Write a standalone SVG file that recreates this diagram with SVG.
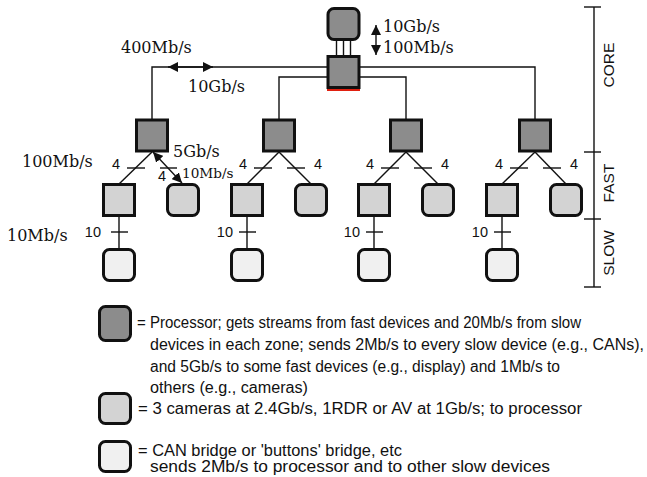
<svg xmlns="http://www.w3.org/2000/svg" width="647" height="477" viewBox="0 0 647 477">
<style>
.proc{fill:#8c8c8c;stroke:#111;stroke-width:3}
.fast{fill:#d3d3d3;stroke:#111;stroke-width:3}
.slow{fill:#f0f0f0;stroke:#111;stroke-width:3}
.ln{fill:none;stroke:#111;stroke-width:1.4}
.ser{font-family:"DejaVu Serif","Liberation Serif",serif;font-size:16px;fill:#111}
.num{font-family:"Liberation Sans",Arial,sans-serif;font-size:14.5px;fill:#111}
.leg{font-family:"Liberation Sans",Arial,sans-serif;font-size:16px;fill:#111}
.tier{font-family:"Liberation Sans",Arial,sans-serif;font-size:15.5px;fill:#111}
</style>
<defs>
<marker id="ah" viewBox="0 0 10 10" refX="10" refY="5" markerWidth="10" markerHeight="10" markerUnits="userSpaceOnUse" orient="auto-start-reverse">
<path d="M0,0 L10,5 L0,10 z" fill="#111"/>
</marker>
</defs>
<rect width="647" height="477" fill="#fff"/>

<g id="connectors">
<path class="ln" d="M327,67 H152 V119"/>
<path class="ln" d="M327,77 H279 V119"/>
<path class="ln" d="M360,77 H406 V119"/>
<path class="ln" d="M360,67 H535 V119"/>
<line class="ln" x1="336.5" y1="41" x2="336.5" y2="56"/>
<line class="ln" x1="343.5" y1="41" x2="343.5" y2="56"/>
<line class="ln" x1="350.5" y1="41" x2="350.5" y2="56"/>
<line x1="327" y1="90" x2="360" y2="90" stroke="#e02010" stroke-width="2"/>
<line class="ln" x1="152" y1="152" x2="119" y2="184"/>
<line class="ln" x1="127" y1="168" x2="145" y2="168"/>
<line class="ln" x1="160" y1="168" x2="177" y2="168"/>
<line class="ln" x1="119" y1="217" x2="119" y2="249"/>
<line class="ln" x1="111" y1="232" x2="128" y2="232"/>
<line class="ln" x1="279" y1="152" x2="247" y2="184"/>
<line class="ln" x1="279" y1="152" x2="311" y2="184"/>
<line class="ln" x1="254" y1="168" x2="272" y2="168"/>
<line class="ln" x1="287" y1="168" x2="305" y2="168"/>
<line class="ln" x1="247" y1="217" x2="247" y2="249"/>
<line class="ln" x1="239" y1="232" x2="256" y2="232"/>
<line class="ln" x1="406" y1="152" x2="374" y2="184"/>
<line class="ln" x1="406" y1="152" x2="438" y2="184"/>
<line class="ln" x1="381" y1="168" x2="399" y2="168"/>
<line class="ln" x1="414" y1="168" x2="432" y2="168"/>
<line class="ln" x1="374" y1="217" x2="374" y2="249"/>
<line class="ln" x1="366" y1="232" x2="383" y2="232"/>
<line class="ln" x1="535" y1="152" x2="502" y2="184"/>
<line class="ln" x1="535" y1="152" x2="566" y2="184"/>
<line class="ln" x1="510" y1="168" x2="528" y2="168"/>
<line class="ln" x1="543" y1="168" x2="561" y2="168"/>
<line class="ln" x1="502" y1="217" x2="502" y2="249"/>
<line class="ln" x1="494" y1="232" x2="511" y2="232"/>
<line class="ln" x1="168" y1="67" x2="213" y2="67" marker-start="url(#ah)" marker-end="url(#ah)"/>
<line class="ln" x1="376" y1="25" x2="376" y2="55" marker-start="url(#ah)" marker-end="url(#ah)"/>
<line class="ln" x1="153" y1="152" x2="182" y2="183" marker-start="url(#ah)" marker-end="url(#ah)"/>
</g>

<g id="top-node"><rect class="proc" x="328" y="8.5" width="31" height="31" rx="6"/></g>
<g id="core-switch"><rect class="proc" x="328" y="56.5" width="31" height="31"/></g>

<g id="proc-1"><rect class="proc" x="136.5" y="120" width="31" height="31"/></g>
<g id="proc-2"><rect class="proc" x="263.5" y="120" width="31" height="31"/></g>
<g id="proc-3"><rect class="proc" x="390.5" y="120" width="31" height="31"/></g>
<g id="proc-4"><rect class="proc" x="519.5" y="120" width="31" height="31"/></g>

<g id="fast-1a"><rect class="fast" x="103.5" y="184.5" width="31" height="31"/></g>
<g id="fast-1b"><rect class="fast" x="167.5" y="184.5" width="31" height="31" rx="6"/></g>
<g id="fast-2a"><rect class="fast" x="231.5" y="184.5" width="31" height="31"/></g>
<g id="fast-2b"><rect class="fast" x="295.5" y="184.5" width="31" height="31" rx="6"/></g>
<g id="fast-3a"><rect class="fast" x="358.5" y="184.5" width="31" height="31"/></g>
<g id="fast-3b"><rect class="fast" x="422.5" y="184.5" width="31" height="31" rx="6"/></g>
<g id="fast-4a"><rect class="fast" x="486.5" y="184.5" width="31" height="31"/></g>
<g id="fast-4b"><rect class="fast" x="550.5" y="184.5" width="31" height="31" rx="6"/></g>

<g id="slow-1"><rect class="slow" x="103.5" y="249.5" width="31" height="31" rx="6"/></g>
<g id="slow-2"><rect class="slow" x="231.5" y="249.5" width="31" height="31" rx="6"/></g>
<g id="slow-3"><rect class="slow" x="358.5" y="249.5" width="31" height="31" rx="6"/></g>
<g id="slow-4"><rect class="slow" x="486.5" y="249.5" width="31" height="31" rx="6"/></g>

<g id="rate-labels">
<text class="ser" x="383" y="32">10Gb/s</text>
<text class="ser" x="383" y="53">100Mb/s</text>
<text class="ser" x="121" y="53">400Mb/s</text>
<text class="ser" x="188" y="92">10Gb/s</text>
<text class="ser" x="22" y="167">100Mb/s</text>
<text class="ser" x="173" y="157">5Gb/s</text>
<text class="ser" x="182" y="178" style="font-size:13.6px">10Mb/s</text>
<text class="ser" x="7" y="241">10Mb/s</text>
</g>

<g id="link-counts">
<text class="num" x="112" y="169">4</text>
<text class="num" x="158" y="181">4</text>
<text class="num" x="101" y="237" text-anchor="end">10</text>
<text class="num" x="239" y="169">4</text>
<text class="num" x="314" y="169">4</text>
<text class="num" x="233" y="237" text-anchor="end">10</text>
<text class="num" x="366" y="169">4</text>
<text class="num" x="441" y="169">4</text>
<text class="num" x="360" y="237" text-anchor="end">10</text>
<text class="num" x="495" y="169">4</text>
<text class="num" x="570" y="169">4</text>
<text class="num" x="488" y="237" text-anchor="end">10</text>
</g>

<g id="tier-scale">
<line class="ln" x1="594" y1="7" x2="594" y2="287"/>
<line class="ln" x1="584" y1="7" x2="601" y2="7"/>
<line class="ln" x1="584" y1="152" x2="601" y2="152"/>
<line class="ln" x1="584" y1="219" x2="601" y2="219"/>
<line class="ln" x1="584" y1="287" x2="601" y2="287"/>
<text class="tier" transform="translate(614,65) rotate(-90)" text-anchor="middle">CORE</text>
<text class="tier" transform="translate(614,183) rotate(-90)" text-anchor="middle">FAST</text>
<text class="tier" transform="translate(614,253) rotate(-90)" text-anchor="middle">SLOW</text>
</g>

<g id="legend">
<rect class="proc" x="99.5" y="306.5" width="31" height="34" rx="6"/>
<text class="leg" x="137" y="328" textLength="444" lengthAdjust="spacingAndGlyphs">= Processor; gets streams from fast devices and 20Mb/s from slow</text>
<text class="leg" x="150" y="350" textLength="494" lengthAdjust="spacingAndGlyphs">devices in each zone; sends 2Mb/s to every slow device (e.g., CANs),</text>
<text class="leg" x="150" y="372" textLength="410" lengthAdjust="spacingAndGlyphs">and 5Gb/s to some fast devices (e.g., display) and 1Mb/s to</text>
<text class="leg" x="150" y="393" textLength="158" lengthAdjust="spacingAndGlyphs">others (e.g., cameras)</text>
<rect class="fast" x="99.5" y="393.5" width="31" height="30" rx="6"/>
<text class="leg" x="138" y="414" textLength="444" lengthAdjust="spacingAndGlyphs">= 3 cameras at 2.4Gb/s, 1RDR or AV at 1Gb/s; to processor</text>
<rect class="slow" x="99.5" y="441.5" width="31" height="30" rx="6"/>
<text class="leg" x="138" y="456" textLength="264" lengthAdjust="spacingAndGlyphs">= CAN bridge or 'buttons' bridge, etc</text>
<text class="leg" x="150" y="472" textLength="400" lengthAdjust="spacingAndGlyphs">sends 2Mb/s to processor and to other slow devices</text>
</g>
</svg>
